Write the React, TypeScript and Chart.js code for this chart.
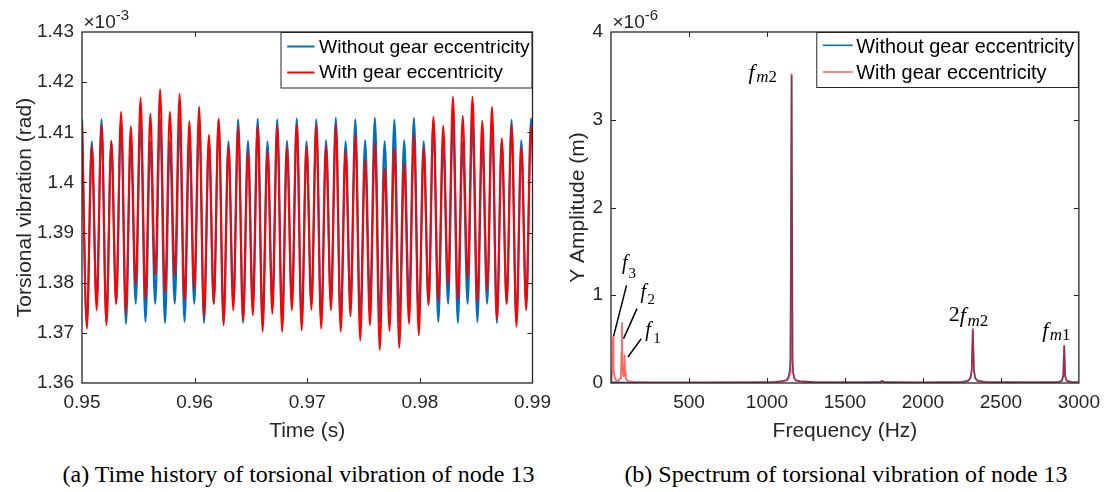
import React, { useEffect, useRef } from "react";
import { Chart, registerables } from "chart.js";

Chart.register(...registerables);

const SANS = '"Liberation Sans", Arial, sans-serif';
const SERIF = '"Liberation Serif", "Times New Roman", serif';
const AXIS = "#262626";
const BLUE = "#0072BD";
const RED = "#FF0000";
const RED_SOFT = "rgba(255, 0, 0, 0.6)";

// ---------------- (a) Time history ----------------
const TIME_START = 0.95;
const HALF_PERIOD = 0.0004334; // time between successive extrema (s)
const TIME_TICKS = [0.95, 0.96, 0.97, 0.98, 0.99];
const TIME_TICK_LABELS = ["0.95", "0.96", "0.97", "0.98", "0.99"];
const ROT_TICKS = [1.36, 1.37, 1.38, 1.39, 1.4, 1.41, 1.42, 1.43];
const ROT_TICK_LABELS = ["1.36", "1.37", "1.38", "1.39", "1.4", "1.41", "1.42", "1.43"];

// peaks and troughs (x10^-3 rad)
const BLUE_PEAKS = [
  1.4126, 1.4082, 1.4126, 1.4082, 1.4126, 1.4083, 1.4126, 1.4082, 1.4127, 1.4083,
  1.4126, 1.4082, 1.4127, 1.4083, 1.4126, 1.4082, 1.4126, 1.4083, 1.4127, 1.4082,
  1.4126, 1.4083, 1.4128, 1.4082, 1.4126, 1.4084, 1.4129, 1.4082, 1.4126, 1.4084,
  1.4129, 1.4082, 1.4125, 1.4084, 1.4129, 1.4082, 1.4126, 1.4083, 1.4127, 1.4082,
  1.4126, 1.4083, 1.4127, 1.4082, 1.4125, 1.4084, 1.4128,
];
const BLUE_TROUGHS = [
  1.372, 1.3758, 1.3721, 1.3758, 1.3718, 1.3758, 1.3722, 1.3758, 1.372, 1.3758,
  1.3722, 1.3758, 1.372, 1.3758, 1.3721, 1.3758, 1.372, 1.3757, 1.3721, 1.3758,
  1.372, 1.3758, 1.3721, 1.3757, 1.372, 1.3758, 1.3721, 1.3758, 1.372, 1.3758,
  1.3721, 1.3757, 1.372, 1.3758, 1.3721, 1.3758, 1.3722, 1.3758, 1.372, 1.3758,
  1.3722, 1.3758, 1.372, 1.3758, 1.3721, 1.3758, 1.372,
];
const RED_PEAKS = [
  1.4118, 1.4073, 1.4115, 1.4083, 1.4141, 1.4112, 1.4169, 1.4137, 1.4186, 1.4141,
  1.4177, 1.4122, 1.4151, 1.4095, 1.4127, 1.4072, 1.4112, 1.4062, 1.4112, 1.4062,
  1.4112, 1.4072, 1.4115, 1.4072, 1.4115, 1.4073, 1.4115, 1.4062, 1.4095, 1.4045,
  1.408, 1.4028, 1.4068, 1.4038, 1.4095, 1.407, 1.4131, 1.4113, 1.4171, 1.4133,
  1.4171, 1.4123, 1.4151, 1.4088, 1.4115, 1.407, 1.4112,
];
const RED_TROUGHS = [
  1.3708, 1.3745, 1.3715, 1.3758, 1.3738, 1.3795, 1.3768, 1.3815, 1.3778, 1.3812,
  1.3765, 1.3788, 1.3732, 1.3758, 1.3715, 1.3745, 1.3725, 1.3735, 1.3702, 1.3738,
  1.3702, 1.3745, 1.3705, 1.3746, 1.3708, 1.3745, 1.3702, 1.3733, 1.3685, 1.3715,
  1.3666, 1.3704, 1.367, 1.3718, 1.3695, 1.3755, 1.3762, 1.3795, 1.3765, 1.3808,
  1.3762, 1.3785, 1.3728, 1.3758, 1.3712, 1.3745, 1.371,
];

// ---------------- (b) Spectrum ----------------
const FREQ_TICKS = [0, 500, 1000, 1500, 2000, 2500, 3000];
const FREQ_TICK_LABELS = ["", "500", "1000", "1500", "2000", "2500", "3000"];
const AMP_TICKS = [0, 1, 2, 3, 4];
const AMP_TICK_LABELS = ["0", "1", "2", "3", "4"];

const RED_FREQ = [
  0, 4, 8, 11, 13, 15, 18, 24, 32, 45, 58, 64, 68, 70.5, 73, 77, 81, 84, 87, 90, 95, 105, 140, 250, 600, 900,
  1050, 1110, 1130, 1142, 1148, 1152, 1158, 1164, 1168, 1174, 1186, 1210, 1300,
  1600, 1725, 1738, 1751, 2000, 2250, 2290, 2305, 2313, 2320, 2327, 2335, 2350, 2400, 2700,
  2870, 2890, 2900, 2906, 2912, 2922, 2950, 3000,
];
const RED_AMP = [
  0.03, 0.06, 0.15, 0.3, 0.52, 0.3, 0.15, 0.06, 0.03, 0.025, 0.05, 0.12, 0.35, 0.684, 0.3, 0.1, 0.08, 0.15, 0.316, 0.12, 0.05, 0.025, 0.012, 0.007, 0.006, 0.008,
  0.012, 0.02, 0.03, 0.06, 0.12, 0.25, 3.52, 0.25, 0.12, 0.06, 0.03, 0.02, 0.01,
  0.007, 0.01, 0.025, 0.01, 0.007, 0.012, 0.025, 0.06, 0.15, 0.62, 0.15, 0.06, 0.025, 0.012, 0.008,
  0.012, 0.025, 0.08, 0.426, 0.08, 0.025, 0.012, 0.008,
];
const BLUE_FREQ = [
  0, 30, 100, 600, 900, 1050, 1100, 1125, 1138, 1145, 1150, 1158, 1164, 1168, 1174,
  1186, 1210, 1300, 1600, 1725, 1738, 1751, 2000, 2250, 2290, 2305, 2313, 2320, 2327, 2335, 2350,
  2400, 2700, 2870, 2890, 2900, 2906, 2912, 2922, 2950, 3000,
];
const BLUE_AMP = [
  0.01, 0.008, 0.006, 0.005, 0.008, 0.012, 0.022, 0.035, 0.07, 0.13, 0.26, 3.5, 0.25, 0.12, 0.06,
  0.03, 0.02, 0.01, 0.007, 0.01, 0.022, 0.01, 0.006, 0.011, 0.024, 0.058, 0.14, 0.6, 0.14, 0.058, 0.024,
  0.011, 0.007, 0.011, 0.024, 0.078, 0.42, 0.078, 0.024, 0.011, 0.007,
];

const SERIES_NAMES = ["Without gear eccentricity", "With gear eccentricity"];

// peak annotations: text pieces laid out left to right from (dx, dy) relative to the peak top
type Part = { t: string; it: boolean; s: number; gap: number; dy: number };
type Note = { freq: number; amp: number; dx: number; parts: Part[]; leader?: number[] };
const PEAK_NOTES: Note[] = [
  { freq: 1158, amp: 3.52, dx: -43, parts: [
    { t: "f", it: true, s: 22, gap: 0, dy: 5 },
    { t: "m", it: true, s: 17, gap: 1.5, dy: 8 },
    { t: "2", it: false, s: 17, gap: 0, dy: 8 },
  ] },
  { freq: 2320, amp: 0.62, dx: -24, parts: [
    { t: "2", it: false, s: 22, gap: 0, dy: -8 },
    { t: "f", it: true, s: 22, gap: 0, dy: -7 },
    { t: "m", it: true, s: 17, gap: 1.5, dy: -3 },
    { t: "2", it: false, s: 17, gap: 0, dy: -3 },
  ] },
  { freq: 2906, amp: 0.426, dx: -22, parts: [
    { t: "f", it: true, s: 22, gap: 0, dy: -9 },
    { t: "m", it: true, s: 17, gap: 1.5, dy: -6 },
    { t: "1", it: false, s: 17, gap: 0, dy: -6 },
  ] },
  { freq: 13, amp: 0.52, dx: 9, parts: [
    { t: "f", it: true, s: 20, gap: 0, dy: -68 },
    { t: "3", it: false, s: 15, gap: 1, dy: -59 },
  ], leader: [13.5, -52, 0.5, -1] },
  { freq: 70.5, amp: 0.684, dx: 18.5, parts: [
    { t: "f", it: true, s: 20, gap: 0, dy: -25 },
    { t: "2", it: false, s: 15, gap: 1.5, dy: -19 },
  ], leader: [15, -14.4, 1.6, 15.6] },
  { freq: 87, amp: 0.316, dx: 20.7, parts: [
    { t: "f", it: true, s: 20, gap: 0, dy: -19 },
    { t: "1", it: false, s: 15, gap: 2.5, dy: -12.5 },
  ], leader: [16.7, -16.7, 3.4, 1.7] },
];

function buildWave(peaks: number[], troughs: number[]) {
  const pts: { x: number; y: number }[] = [];
  for (let n = 0; n < peaks.length; n++) {
    pts.push({ x: TIME_START + 2 * n * HALF_PERIOD, y: peaks[n] });
    if (n < troughs.length) pts.push({ x: TIME_START + (2 * n + 1) * HALF_PERIOD, y: troughs[n] });
  }
  return pts;
}

function pairUp(xs: number[], ys: number[]) {
  return xs.map((x, i) => ({ x, y: ys[i] }));
}

type LegendSpec = {
  width: number; height: number; lineStart: number; lineLen: number; textX: number;
  textWidth: number; lineY: number[]; textY: number[]; lineWidth: number; colors: string[];
};

function framePlugin(cfg: {
  xTicks: number[]; yTicks: number[]; exponent: string; legend: LegendSpec;
  extra?: (chart: any, ctx: CanvasRenderingContext2D) => void;
}) {
  return {
    id: "frame",
    afterDraw(chart: any) {
      const ctx: CanvasRenderingContext2D = chart.ctx;
      const a = chart.chartArea;
      const xs = chart.scales.x;
      const ys = chart.scales.y;
      ctx.save();
      if (cfg.extra) cfg.extra(chart, ctx);
      // inward ticks on all four sides
      ctx.strokeStyle = AXIS;
      ctx.lineWidth = 1;
      ctx.beginPath();
      const TL = 5;
      for (const v of cfg.xTicks) {
        const p = Math.round(xs.getPixelForValue(v)) + 0.5;
        if (p < a.left + 2 || p > a.right - 2) continue;
        ctx.moveTo(p, a.bottom); ctx.lineTo(p, a.bottom - TL);
        ctx.moveTo(p, a.top); ctx.lineTo(p, a.top + TL);
      }
      for (const v of cfg.yTicks) {
        const p = Math.round(ys.getPixelForValue(v)) + 0.5;
        if (p < a.top + 2 || p > a.bottom - 2) continue;
        ctx.moveTo(a.left, p); ctx.lineTo(a.left + TL, p);
        ctx.moveTo(a.right, p); ctx.lineTo(a.right - TL, p);
      }
      ctx.stroke();
      // legend
      const L = cfg.legend;
      const lx = a.right - L.width;
      const ly = a.top;
      ctx.fillStyle = "#ffffff";
      ctx.fillRect(lx, ly, L.width, L.height);
      ctx.strokeStyle = AXIS;
      ctx.lineWidth = 1;
      ctx.strokeRect(lx + 0.5, ly + 0.5, L.width - 1, L.height);
      ctx.font = `19px ${SANS}`;
      const m = ctx.measureText(SERIES_NAMES[0]).width;
      const fs = (19 * L.textWidth) / m;
      ctx.font = `${fs}px ${SANS}`;
      ctx.textAlign = "left";
      ctx.textBaseline = "middle";
      SERIES_NAMES.forEach((name, i) => {
        ctx.strokeStyle = L.colors[i];
        ctx.lineWidth = L.lineWidth;
        ctx.beginPath();
        ctx.moveTo(lx + L.lineStart, ly + L.lineY[i]);
        ctx.lineTo(lx + L.lineStart + L.lineLen, ly + L.lineY[i]);
        ctx.stroke();
        ctx.fillStyle = "#000000";
        ctx.fillText(name, lx + L.textX, ly + L.textY[i]);
      });
      // box
      ctx.strokeStyle = AXIS;
      ctx.lineWidth = 1.3;
      ctx.strokeRect(a.left, a.top, a.right - a.left, a.bottom - a.top);
      // exponent label
      ctx.fillStyle = AXIS;
      ctx.textBaseline = "alphabetic";
      ctx.textAlign = "left";
      ctx.font = `19px ${SANS}`;
      ctx.fillText("×10", a.left + 1.5, a.top - 4.5);
      const w = ctx.measureText("×10").width;
      ctx.font = `15px ${SANS}`;
      ctx.fillText(cfg.exponent, a.left + 1.5 + w, a.top - 12);
      ctx.restore();
    },
  };
}

function drawNotes(chart: any, ctx: CanvasRenderingContext2D) {
  const xs = chart.scales.x;
  const ys = chart.scales.y;
  ctx.fillStyle = "#000000";
  ctx.strokeStyle = "#000000";
  ctx.textAlign = "left";
  ctx.textBaseline = "alphabetic";
  for (const n of PEAK_NOTES) {
    const px = xs.getPixelForValue(n.freq);
    const py = ys.getPixelForValue(n.amp);
    let x = px + n.dx;
    for (const p of n.parts) {
      ctx.font = `${p.it ? "italic " : ""}${p.s}px ${SERIF}`;
      x += p.gap;
      ctx.fillText(p.t, x, py + p.dy);
      x += ctx.measureText(p.t).width;
    }
    if (n.leader) {
      ctx.lineWidth = 1.5;
      ctx.beginPath();
      ctx.moveTo(px + n.leader[0], py + n.leader[1]);
      ctx.lineTo(px + n.leader[2], py + n.leader[3]);
      ctx.stroke();
    }
  }
}

function axisCommon(opts: {
  min: number; max: number; ticks: number[]; labels: string[]; title: string;
  titlePad: any; tickPad: number; fit: (s: any) => void;
}) {
  return {
    type: "linear" as const,
    min: opts.min,
    max: opts.max,
    afterBuildTicks: (s: any) => { s.ticks = opts.ticks.map((v) => ({ value: v })); },
    afterFit: opts.fit,
    grid: { display: false, drawTicks: false, tickLength: 0 },
    border: { display: false },
    ticks: {
      autoSkip: false, maxRotation: 0, minRotation: 0, padding: opts.tickPad, color: AXIS,
      font: { family: SANS, size: 19 },
      callback: (_v: any, i: number) => opts.labels[i],
    },
    title: {
      display: true, text: opts.title, color: AXIS,
      font: { family: SANS, size: 21 }, padding: opts.titlePad,
    },
  };
}

export default function App() {
  const leftRef = useRef<HTMLCanvasElement>(null);
  const rightRef = useRef<HTMLCanvasElement>(null);

  useEffect(() => {
    const left = new Chart(leftRef.current as HTMLCanvasElement, {
      type: "line",
      data: {
        datasets: [
          { label: SERIES_NAMES[1], data: buildWave(RED_PEAKS, RED_TROUGHS), borderColor: RED, borderWidth: 2, pointRadius: 0, cubicInterpolationMode: "monotone", fill: false },
          { label: SERIES_NAMES[0], data: buildWave(BLUE_PEAKS, BLUE_TROUGHS), borderColor: BLUE, borderWidth: 2.2, pointRadius: 0, cubicInterpolationMode: "monotone", fill: false },
        ],
      },
      options: {
        animation: false,
        responsive: false,
        events: [],
        layout: { padding: { left: 0, top: 32, right: 27.5, bottom: 0 } },
        plugins: { legend: { display: false }, tooltip: { enabled: false } },
        scales: {
          x: axisCommon({ min: 0.95, max: 0.99, ticks: TIME_TICKS, labels: TIME_TICK_LABELS, title: "Time (s)", titlePad: { top: 0, bottom: 1.5 }, tickPad: 8, fit: (s: any) => { s.height = 62; } }),
          y: axisCommon({ min: 1.36, max: 1.43, ticks: ROT_TICKS, labels: ROT_TICK_LABELS, title: "Torsional vibration (rad)", titlePad: { top: 12.5, bottom: 0 }, tickPad: 8, fit: (s: any) => { s.width = 82; } }),
        },
      } as any,
      plugins: [framePlugin({
        xTicks: TIME_TICKS, yTicks: ROT_TICKS, exponent: "-3",
        legend: { width: 252, height: 55.5, lineStart: 6.7, lineLen: 27.3, textX: 38.5, textWidth: 210.7, lineY: [14.5, 40.5], textY: [15.2, 41], lineWidth: 2, colors: [BLUE, RED] },
      })],
    });

    const right = new Chart(rightRef.current as HTMLCanvasElement, {
      type: "line",
      data: {
        datasets: [
          { label: SERIES_NAMES[1], data: pairUp(RED_FREQ, RED_AMP), borderColor: RED_SOFT, borderWidth: 1.8, borderJoinStyle: "round", pointRadius: 0, tension: 0, fill: false },
          { label: SERIES_NAMES[0], data: pairUp(BLUE_FREQ, BLUE_AMP), borderColor: BLUE, borderWidth: 1.6, borderJoinStyle: "round", pointRadius: 0, tension: 0, fill: false },
        ],
      },
      options: {
        animation: false,
        responsive: false,
        events: [],
        layout: { padding: { left: 0, top: 32, right: 29, bottom: 0 } },
        plugins: { legend: { display: false }, tooltip: { enabled: false } },
        scales: {
          x: axisCommon({ min: 0, max: 3000, ticks: FREQ_TICKS, labels: FREQ_TICK_LABELS, title: "Frequency (Hz)", titlePad: { top: 0, bottom: 1.5 }, tickPad: 8, fit: (s: any) => { s.height = 62; } }),
          y: axisCommon({ min: 0, max: 4, ticks: AMP_TICKS, labels: AMP_TICK_LABELS, title: "Y Amplitude (m)", titlePad: { top: 5.5, bottom: 0 }, tickPad: 8, fit: (s: any) => { s.width = 51; } }),
        },
      } as any,
      plugins: [framePlugin({
        xTicks: FREQ_TICKS, yTicks: AMP_TICKS, exponent: "-6",
        legend: { width: 262.6, height: 55, lineStart: 6.6, lineLen: 30, textX: 40, textWidth: 218, lineY: [13.3, 40], textY: [15.8, 41.5], lineWidth: 1.6, colors: [BLUE, RED_SOFT] },
        extra: drawNotes,
      })],
    });

    return () => {
      left.destroy();
      right.destroy();
    };
  }, []);

  const caption = (left: number, width: number): React.CSSProperties => ({
    position: "absolute", left, top: 459, width, textAlign: "center",
    fontFamily: SERIF, fontSize: 24, lineHeight: "30px", color: "#000", whiteSpace: "nowrap",
  });

  return (
    <div style={{ position: "absolute", left: 0, top: 0, width: 1108, height: 492, background: "#ffffff", overflow: "hidden" }}>
      <canvas ref={leftRef} width={560} height={445} style={{ position: "absolute", left: 0, top: 0, width: 560, height: 445 }} />
      <canvas ref={rightRef} width={548} height={445} style={{ position: "absolute", left: 560, top: 0, width: 548, height: 445 }} />
      <div style={caption(0, 597)}>(a) Time history of torsional vibration of node 13</div>
      <div style={caption(560, 572)}>(b) Spectrum of torsional vibration of node 13</div>
    </div>
  );
}
